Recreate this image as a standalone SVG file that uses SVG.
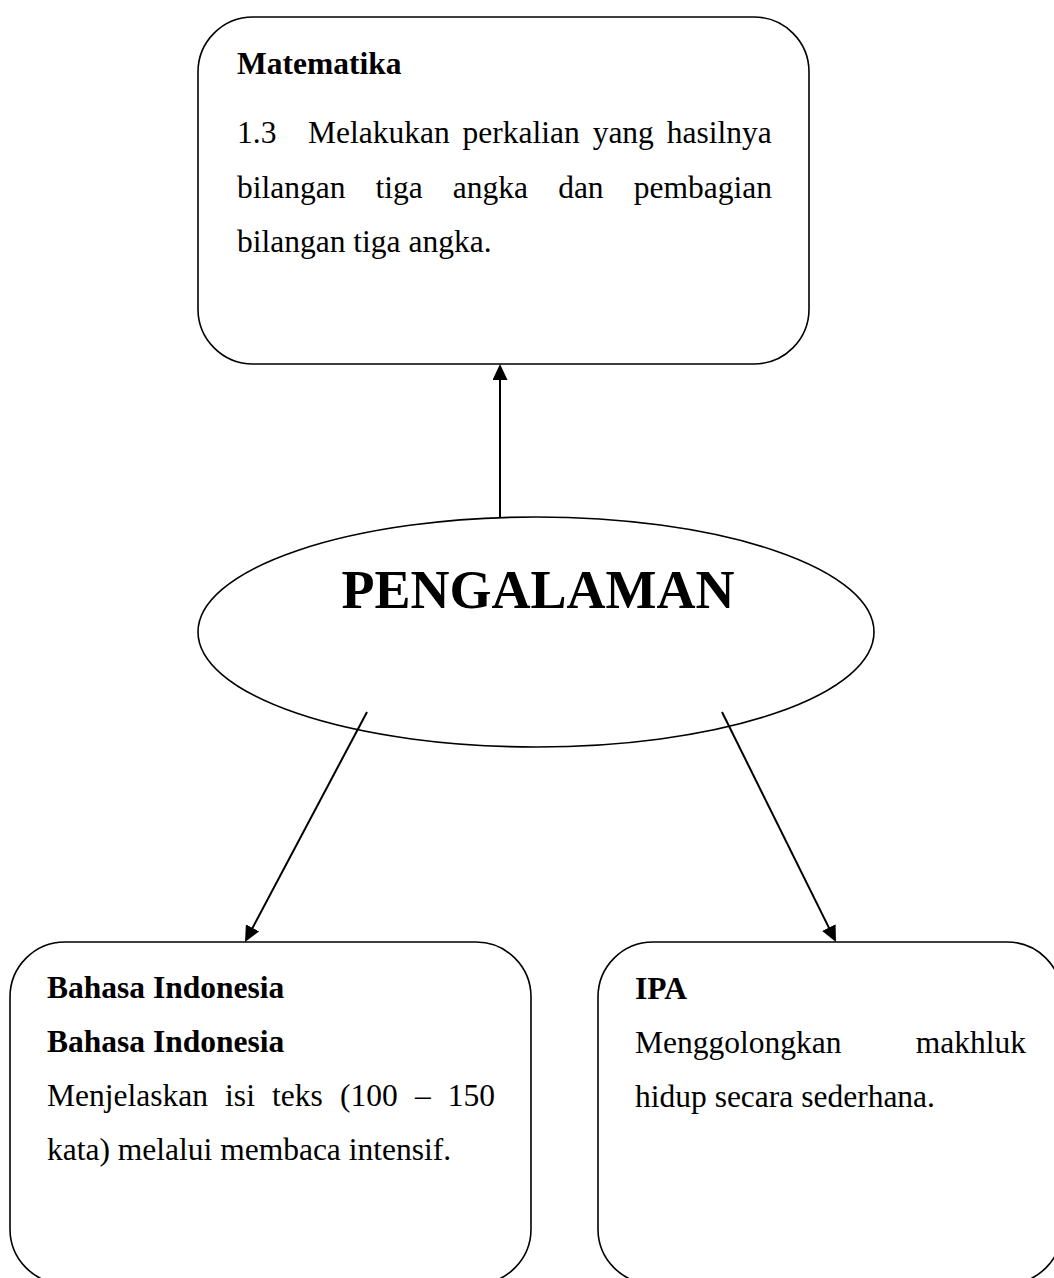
<svg xmlns="http://www.w3.org/2000/svg" width="1054" height="1278" viewBox="0 0 1054 1278">
<style>
.shape{fill:#fff;stroke:#000;stroke-width:1.6}
.t{font-family:"Liberation Serif","Times New Roman",serif;font-size:31.5px;fill:#000}
.b{font-weight:bold}
.big{font-family:"Liberation Serif","Times New Roman",serif;font-size:54px;font-weight:bold;fill:#000}
.conn{stroke:#000;stroke-width:2;fill:none;marker-end:url(#ah)}
</style>
<defs>
<marker id="ah" markerUnits="userSpaceOnUse" markerWidth="16" markerHeight="15" refX="12" refY="7.5" orient="auto" viewBox="0 0 16 15">
<path d="M0,0 L16,7.5 L0,15 z" fill="#000"/>
</marker>
</defs>
<rect width="1054" height="1278" fill="#fff"/>
<g id="matematika">
<rect class="shape" x="198" y="17" width="611" height="347" rx="55" ry="55"/>
<text class="t b" x="237" y="74">Matematika</text>
<text class="t" y="143"><tspan x="237">1.3</tspan><tspan x="308" word-spacing="5">Melakukan perkalian yang hasilnya</tspan></text>
<text class="t" x="237" y="197.5" word-spacing="22.2">bilangan tiga angka dan pembagian</text>
<text class="t" x="237" y="252">bilangan tiga angka.</text>
</g>
<g id="pengalaman">
<ellipse class="shape" cx="536" cy="632" rx="338" ry="115"/>
<text class="big" x="538" y="608" text-anchor="middle">PENGALAMAN</text>
</g>
<g id="bahasa">
<rect class="shape" x="10" y="942" width="521" height="342" rx="55" ry="55"/>
<text class="t b" x="47" y="998">Bahasa Indonesia</text>
<text class="t b" x="47" y="1052">Bahasa Indonesia</text>
<text class="t" x="47" y="1106" word-spacing="9.3">Menjelaskan isi teks (100 – 150</text>
<text class="t" x="47" y="1160">kata) melalui membaca intensif.</text>
</g>
<g id="ipa">
<rect class="shape" x="598" y="942" width="464" height="342" rx="55" ry="55"/>
<text class="t b" x="635" y="999">IPA</text>
<text class="t" x="635" y="1053">Menggolongkan</text>
<text class="t" x="1026" y="1053" text-anchor="end">makhluk</text>
<text class="t" x="635" y="1107">hidup secara sederhana.</text>
</g>
<g id="connectors">
<line class="conn" x1="500" y1="517" x2="500" y2="368"/>
<line class="conn" x1="367" y1="712" x2="246.9" y2="938.5"/>
<line class="conn" x1="722" y1="712" x2="834.2" y2="938.4"/>
</g>
</svg>
